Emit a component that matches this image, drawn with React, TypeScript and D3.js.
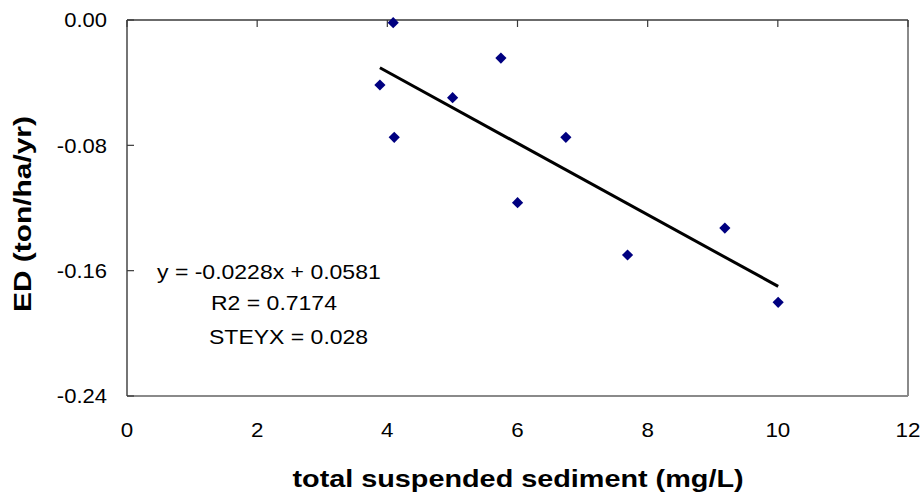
import React from "react";
import * as d3 from "d3";

const tssValues = [4.09, 3.886, 4.106, 5.003, 5.745, 6.743, 6.001, 9.186, 7.691, 10.005];
const edValues = [-0.0017, -0.0415, -0.0749, -0.0496, -0.0243, -0.0749, -0.1166, -0.1328, -0.15, -0.1802];
const xTicks = [0, 2, 4, 6, 8, 10, 12];
const yTicks = [0, -0.08, -0.16, -0.24];
const trendSlope = -0.0228;
const trendIntercept = 0.0581;
const equationLines = ["y = -0.0228x + 0.0581", "R2 = 0.7174", "STEYX = 0.028"];
const xTitle = "total suspended sediment (mg/L)";
const yTitle = "ED (ton/ha/yr)";

const W = 923;
const H = 494;
const L = 127, R = 908, T = 20, B = 396;
const FONT = "'Liberation Sans', Arial, Helvetica, sans-serif";

export default function App() {
  const x = d3.scaleLinear().domain([0, 12]).range([L, R]);
  const y = d3.scaleLinear().domain([0, -0.24]).range([T, B]);
  const pts = tssValues.map((v, i) => [v, edValues[i]] as [number, number]);
  const [xmin, xmax] = d3.extent(tssValues) as [number, number];
  const trend: [number, number][] = [xmin, xmax].map((v) => [v, trendSlope * v + trendIntercept]);
  const line = d3.line<[number, number]>().x((d) => x(d[0])).y((d) => y(d[1]));
  const diamond = d3.symbol().type(d3.symbolDiamond2).size(80)();
  const eqPos = [
    [157, 279],
    [211, 310],
    [209, 344],
  ];
  return (
    <svg width={W} height={H} style={{ position: "absolute", left: 0, top: 0, background: "#fff" }} fontFamily={FONT}>
      <rect x={0} y={0} width={W} height={H} fill="#fff" />
      <line x1={R} y1={T} x2={R} y2={B} stroke="#8a8a8a" strokeWidth={2} />
      <line x1={L} y1={B} x2={R} y2={B} stroke="#8a8a8a" strokeWidth={2} />
      <line x1={L} y1={T} x2={R} y2={T} stroke="#3a3a3a" strokeWidth={1.4} />
      <line x1={L} y1={T} x2={L} y2={B} stroke="#3a3a3a" strokeWidth={1.4} />
      {xTicks.map((t) => (
        <line key={"xt" + t} x1={x(t)} x2={x(t)} y1={T} y2={T + 7} stroke="#3a3a3a" strokeWidth={1.2} />
      ))}
      {yTicks.map((t) => (
        <line key={"yt" + t} x1={L} x2={L + 7} y1={y(t)} y2={y(t)} stroke="#3a3a3a" strokeWidth={1.2} />
      ))}
      {xTicks.map((t) => (
        <text key={"xl" + t} transform={`translate(${x(t)},437) scale(1.12,1)`} textAnchor="middle" fontSize={20} fill="#000">
          {String(t)}
        </text>
      ))}
      {yTicks.map((t) => (
        <text key={"yl" + t} transform={`translate(107,${y(t)}) scale(1.1,1)`} dy="0.36em" textAnchor="end" fontSize={20} fill="#000">
          {d3.format(".2f")(t).replace("−", "-")}
        </text>
      ))}
      <path d={line(trend) || ""} fill="none" stroke="#000" strokeWidth={3} />
      {pts.map((p, i) => (
        <path key={"p" + i} d={diamond || ""} transform={`translate(${x(p[0])},${y(p[1])})`} fill="#000080" />
      ))}
      {equationLines.map((s, i) => (
        <text key={"eq" + i} transform={`translate(${eqPos[i][0]},${eqPos[i][1]}) scale(1.15,1)`} fontSize={20} fill="#000">
          {s}
        </text>
      ))}
      <text transform={`translate(518,487) scale(1.2,1)`} textAnchor="middle" fontSize={24} fontWeight="bold" fill="#000">
        {xTitle}
      </text>
      <text transform={`translate(31,214) rotate(-90) scale(1.3,1)`} textAnchor="middle" fontSize={23} fontWeight="bold" fill="#000">
        {yTitle}
      </text>
    </svg>
  );
}
